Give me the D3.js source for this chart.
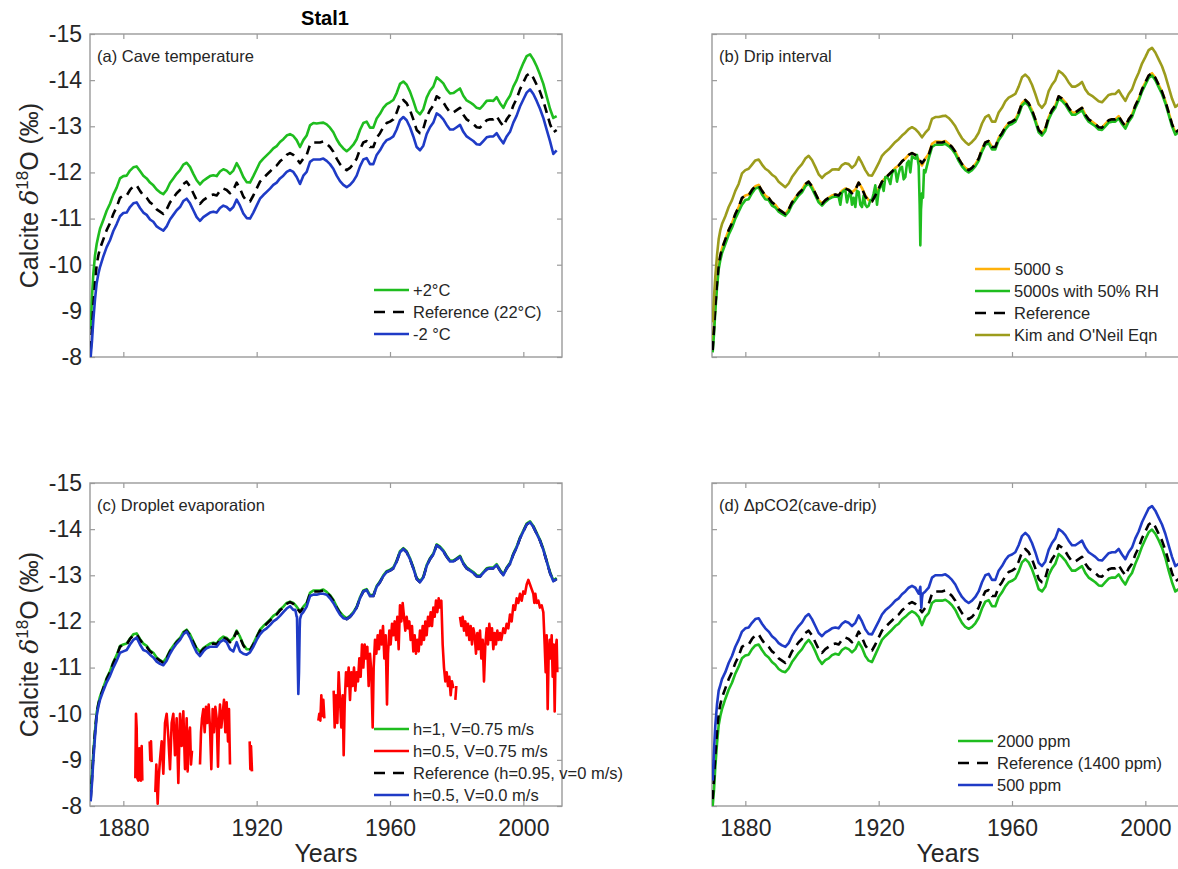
<!DOCTYPE html>
<html>
<head>
<meta charset="UTF-8">
<script src="https://cdn.jsdelivr.net/npm/d3@7"></script>
<style>
body{
    margin:0;
    background:#fff;
    font-family: "Liberation Sans", Helvetica, Arial, sans-serif;
}
</style>
</head>
<body>
<script>
// sampling grid (years) shared by the smooth series
var years = [1870.2, 1870.6, 1871, 1871.5, 1872, 1872.5].concat(d3.range(1873, 2011))

// Reference run (same in all four panels)
var refVals = [
 -8.15,-8.6,-9.1,-9.6,-10.0,-10.2,-10.35,-10.55,-10.75,-10.9,
 -11.1,-11.25,-11.45,-11.5,-11.5,-11.62,-11.7,-11.72,-11.6,-11.5,
 -11.45,-11.35,-11.3,-11.2,-11.15,-11.1,-11.2,-11.35,-11.45,-11.55,
 -11.62,-11.75,-11.8,-11.7,-11.55,-11.4,-11.32,-11.4,-11.45,-11.5,
 -11.52,-11.5,-11.6,-11.65,-11.62,-11.55,-11.62,-11.78,-11.65,-11.48,
 -11.38,-11.37,-11.5,-11.65,-11.8,-11.88,-11.95,-12.02,-12.1,-12.15,
 -12.24,-12.3,-12.38,-12.42,-12.38,-12.3,-12.2,-12.3,-12.38,-12.6,
 -12.65,-12.65,-12.65,-12.67,-12.62,-12.55,-12.45,-12.3,-12.18,-12.1,
 -12.05,-12.1,-12.18,-12.3,-12.5,-12.65,-12.68,-12.55,-12.55,-12.75,
 -12.85,-12.98,-13.07,-13.1,-13.15,-13.3,-13.5,-13.57,-13.5,-13.35,
 -13.15,-12.92,-12.85,-12.95,-13.2,-13.35,-13.45,-13.65,-13.6,-13.52,
 -13.4,-13.3,-13.3,-13.35,-13.4,-13.25,-13.15,-13.1,-13.05,-12.98,
 -12.97,-13.05,-13.13,-13.15,-13.15,-13.22,-13.1,-13.0,-13.15,-13.25,
 -13.45,-13.6,-13.8,-13.95,-14.1,-14.15,-14.05,-13.9,-13.75,-13.55,
 -13.3,-13.05,-12.87,-12.92]

// (a) cave temperature
var warmVals = [
 -8.6,-9.3,-9.8,-10.2,-10.45,-10.62,-10.78,-10.97,-11.17,-11.32,
 -11.52,-11.67,-11.87,-11.92,-11.93,-12.04,-12.11,-12.13,-12.03,-11.93,
 -11.87,-11.78,-11.72,-11.63,-11.57,-11.53,-11.62,-11.77,-11.87,-11.97,
 -12.05,-12.17,-12.21,-12.12,-11.97,-11.83,-11.74,-11.82,-11.87,-11.92,
 -11.94,-11.92,-12.02,-12.07,-12.04,-11.97,-12.04,-12.2,-12.07,-11.9,
 -11.79,-11.78,-11.92,-12.07,-12.22,-12.3,-12.37,-12.44,-12.52,-12.57,
 -12.66,-12.72,-12.8,-12.83,-12.79,-12.7,-12.55,-12.7,-12.8,-13.02,
 -13.07,-13.06,-13.07,-13.08,-13.04,-12.97,-12.87,-12.72,-12.6,-12.52,
 -12.46,-12.52,-12.6,-12.72,-12.92,-13.07,-13.1,-12.97,-12.97,-13.17,
 -13.27,-13.4,-13.48,-13.52,-13.57,-13.72,-13.92,-13.97,-13.9,-13.75,
 -13.55,-13.33,-13.26,-13.37,-13.62,-13.77,-13.86,-14.06,-14.0,-13.93,
 -13.8,-13.71,-13.72,-13.77,-13.82,-13.66,-13.56,-13.52,-13.47,-13.4,
 -13.38,-13.46,-13.55,-13.56,-13.55,-13.63,-13.5,-13.4,-13.55,-13.66,
 -13.86,-14.0,-14.2,-14.37,-14.52,-14.56,-14.45,-14.3,-14.12,-13.92,
 -13.65,-13.38,-13.18,-13.22]
var coolVals = [
 -8.0,-8.35,-8.8,-9.25,-9.6,-9.8,-9.95,-10.18,-10.38,-10.53,
 -10.73,-10.88,-11.05,-11.12,-11.13,-11.25,-11.33,-11.35,-11.23,-11.13,
 -11.08,-10.98,-10.93,-10.83,-10.78,-10.74,-10.83,-10.98,-11.08,-11.18,
 -11.25,-11.38,-11.43,-11.33,-11.18,-11.03,-10.95,-11.03,-11.08,-11.13,
 -11.15,-11.13,-11.23,-11.28,-11.25,-11.18,-11.25,-11.41,-11.28,-11.11,
 -11.01,-11.0,-11.13,-11.28,-11.43,-11.51,-11.58,-11.65,-11.73,-11.78,
 -11.87,-11.93,-12.01,-12.05,-12.01,-11.9,-11.75,-11.93,-12.01,-12.23,
 -12.28,-12.28,-12.28,-12.3,-12.25,-12.18,-12.08,-11.93,-11.81,-11.73,
 -11.68,-11.73,-11.81,-11.93,-12.13,-12.28,-12.31,-12.18,-12.18,-12.38,
 -12.48,-12.61,-12.7,-12.73,-12.78,-12.93,-13.13,-13.2,-13.13,-12.98,
 -12.78,-12.55,-12.48,-12.58,-12.83,-12.98,-13.08,-13.28,-13.23,-13.15,
 -13.03,-12.93,-12.93,-12.98,-13.03,-12.88,-12.78,-12.73,-12.68,-12.61,
 -12.6,-12.68,-12.76,-12.78,-12.78,-12.85,-12.73,-12.63,-12.78,-12.88,
 -13.08,-13.23,-13.43,-13.58,-13.73,-13.8,-13.7,-13.55,-13.38,-13.18,
 -12.93,-12.68,-12.4,-12.48]

// (b) drip interval
var drip5000Vals = [
 -8.3,-8.65,-9.12,-9.6,-10.0,-10.2,-10.35,-10.55,-10.75,-10.9,
 -11.1,-11.25,-11.43,-11.5,-11.52,-11.62,-11.7,-11.73,-11.6,-11.5,
 -11.45,-11.35,-11.3,-11.2,-11.15,-11.1,-11.2,-11.35,-11.45,-11.55,
 -11.62,-11.75,-11.8,-11.7,-11.55,-11.4,-11.33,-11.4,-11.45,-11.5,
 -11.52,-11.5,-11.6,-11.65,-11.63,-11.57,-11.63,-11.78,-11.66,-11.5,
 -11.4,-11.38,-11.5,-11.65,-11.8,-11.88,-11.95,-12.02,-12.1,-12.15,
 -12.24,-12.3,-12.38,-12.42,-12.38,-12.28,-12.15,-12.3,-12.4,-12.62,
 -12.67,-12.67,-12.66,-12.68,-12.62,-12.55,-12.45,-12.3,-12.18,-12.1,
 -12.05,-12.1,-12.18,-12.3,-12.5,-12.65,-12.68,-12.55,-12.55,-12.75,
 -12.85,-12.98,-13.07,-13.1,-13.15,-13.3,-13.5,-13.57,-13.5,-13.35,
 -13.15,-12.92,-12.85,-12.95,-13.2,-13.35,-13.45,-13.65,-13.6,-13.52,
 -13.4,-13.3,-13.3,-13.35,-13.4,-13.25,-13.15,-13.1,-13.05,-12.98,
 -12.97,-13.05,-13.13,-13.15,-13.15,-13.22,-13.1,-13.0,-13.15,-13.25,
 -13.45,-13.6,-13.8,-13.95,-14.1,-14.15,-14.05,-13.9,-13.75,-13.55,
 -13.3,-13.05,-12.87,-12.92]
var dripRhVals = [
 -8.1,-8.5,-9.0,-9.5,-9.9,-10.1,-10.25,-10.45,-10.65,-10.8,
 -11.0,-11.15,-11.3,-11.4,-11.42,-11.55,-11.65,-11.68,-11.52,-11.42,
 -11.4,-11.28,-11.24,-11.15,-11.1,-11.06,-11.15,-11.3,-11.4,-11.5,
 -11.57,-11.7,-11.76,-11.65,-11.5,-11.35,-11.28,-11.36,-11.42,-11.46,
 -11.48,-11.47,-11.56,-11.62,-11.5,-11.3,-11.25,-11.58,-11.25,-11.3,
 -11.28,-11.4,-11.72,-11.6,-11.75,-11.9,-11.85,-11.98,-12.05,-11.98,
 -12.12,-11.9,-12.25,-12.35,-12.3,-12.15,-11.55,-12.0,-12.3,-12.55,
 -12.6,-12.6,-12.6,-12.62,-12.57,-12.5,-12.4,-12.25,-12.13,-12.05,
 -12.0,-12.05,-12.13,-12.25,-12.45,-12.6,-12.63,-12.5,-12.5,-12.7,
 -12.8,-12.93,-13.02,-13.05,-13.1,-13.25,-13.45,-13.52,-13.45,-13.3,
 -13.1,-12.87,-12.8,-12.9,-13.15,-13.3,-13.4,-13.6,-13.55,-13.47,
 -13.35,-13.25,-13.25,-13.3,-13.35,-13.2,-13.1,-13.05,-13.0,-12.93,
 -12.92,-13.0,-13.08,-13.1,-13.1,-13.17,-13.05,-12.95,-13.1,-13.2,
 -13.4,-13.55,-13.75,-13.9,-14.05,-14.1,-14.0,-13.85,-13.7,-13.5,
 -13.25,-13.0,-12.82,-12.87]
// extra samples of the 50% RH run (jitter 1908-1933 and the 1932 spike)
var dripRhExtraYears = [1908.5,1909.5,1910.5,1911.5,1912.5,1913.5,1914.5,1915.5,1916.5,1917.5,
 1918.5,1919.5,1920.5,1921.5,1922.5,1923.5,1924.5,1925.5,1926.5,1927.5,1928.5,1929.5,1930.5,
 1931.5,1932.3,1932.5,1932.7,1933.3,1933.6]
var dripRhExtraVals = [-11.3,-11.6,-11.35,-11.6,-11.45,-11.6,-11.3,-11.5,-11.25,-11.4,
 -11.55,-11.3,-11.7,-11.6,-11.9,-11.75,-12.05,-11.8,-12.1,-11.85,-12.2,-12.0,-12.32,
 -12.38,-11.3,-10.42,-11.2,-11.45,-12.05]
var kimVals = [
 -8.75,-9.3,-9.75,-10.2,-10.55,-10.75,-10.88,-11.05,-11.25,-11.4,
 -11.6,-11.75,-11.98,-12.05,-12.08,-12.17,-12.26,-12.28,-12.17,-12.08,
 -12.03,-11.95,-11.9,-11.8,-11.74,-11.68,-11.76,-11.9,-12.0,-12.1,
 -12.18,-12.3,-12.36,-12.27,-12.12,-11.96,-11.88,-11.96,-12.0,-12.06,
 -12.07,-12.06,-12.16,-12.2,-12.18,-12.1,-12.17,-12.33,-12.2,-12.05,
 -11.94,-11.93,-12.06,-12.2,-12.36,-12.44,-12.5,-12.58,-12.66,-12.72,
 -12.8,-12.86,-12.94,-12.98,-12.94,-12.86,-12.76,-12.86,-12.94,-13.16,
 -13.2,-13.2,-13.22,-13.23,-13.18,-13.1,-13.0,-12.86,-12.74,-12.66,
 -12.6,-12.66,-12.74,-12.86,-13.06,-13.2,-13.24,-13.1,-13.1,-13.3,
 -13.4,-13.54,-13.62,-13.66,-13.7,-13.86,-14.06,-14.12,-14.05,-13.9,
 -13.7,-13.48,-13.4,-13.5,-13.76,-13.9,-14.0,-14.2,-14.15,-14.07,
 -13.95,-13.86,-13.86,-13.9,-13.96,-13.8,-13.7,-13.66,-13.6,-13.54,
 -13.52,-13.6,-13.68,-13.7,-13.7,-13.78,-13.66,-13.55,-13.7,-13.8,
 -14.0,-14.16,-14.36,-14.5,-14.65,-14.7,-14.6,-14.45,-14.3,-14.1,
 -13.85,-13.6,-13.42,-13.48]

// (c) droplet evaporation
var evapH1Vals = [
 -8.3,-8.7,-9.15,-9.62,-10.02,-10.22,-10.37,-10.57,-10.77,-10.92,
 -11.12,-11.27,-11.47,-11.5,-11.52,-11.63,-11.72,-11.74,-11.62,-11.52,
 -11.47,-11.37,-11.32,-11.22,-11.16,-11.12,-11.22,-11.37,-11.47,-11.57,
 -11.64,-11.77,-11.82,-11.72,-11.57,-11.42,-11.34,-11.42,-11.47,-11.52,
 -11.54,-11.52,-11.62,-11.67,-11.64,-11.57,-11.64,-11.8,-11.67,-11.5,
 -11.4,-11.39,-11.52,-11.67,-11.82,-11.9,-11.97,-12.04,-12.12,-12.17,
 -12.26,-12.32,-12.4,-12.43,-12.4,-12.32,-12.22,-12.32,-12.4,-12.62,
 -12.67,-12.67,-12.67,-12.69,-12.64,-12.57,-12.47,-12.32,-12.2,-12.12,
 -12.07,-12.12,-12.2,-12.32,-12.52,-12.67,-12.7,-12.57,-12.57,-12.77,
 -12.87,-13.0,-13.09,-13.12,-13.17,-13.32,-13.52,-13.59,-13.52,-13.37,
 -13.17,-12.94,-12.87,-12.97,-13.22,-13.37,-13.47,-13.67,-13.62,-13.54,
 -13.42,-13.32,-13.32,-13.37,-13.42,-13.27,-13.17,-13.12,-13.07,-13.0,
 -12.99,-13.07,-13.15,-13.17,-13.17,-13.24,-13.12,-13.02,-13.17,-13.27,
 -13.47,-13.62,-13.82,-13.97,-14.12,-14.17,-14.07,-13.92,-13.77,-13.57,
 -13.32,-13.07,-12.89,-12.94]
var evapV0Vals = [
 -8.1,-8.5,-9.0,-9.5,-9.95,-10.15,-10.3,-10.5,-10.68,-10.82,
 -11.0,-11.15,-11.32,-11.35,-11.38,-11.5,-11.6,-11.65,-11.5,-11.38,
 -11.35,-11.28,-11.22,-11.13,-11.08,-11.05,-11.15,-11.3,-11.42,-11.52,
 -11.6,-11.72,-11.78,-11.65,-11.48,-11.33,-11.25,-11.35,-11.42,-11.45,
 -11.45,-11.45,-11.55,-11.6,-11.55,-11.4,-11.35,-11.55,-11.35,-11.3,
 -11.28,-11.33,-11.45,-11.6,-11.72,-11.8,-11.85,-11.92,-12.0,-12.05,
 -12.12,-12.2,-12.28,-12.33,-12.25,-12.1,-12.05,-12.2,-12.32,-12.55,
 -12.58,-12.58,-12.6,-12.6,-12.58,-12.5,-12.4,-12.27,-12.15,-12.07,
 -12.05,-12.1,-12.18,-12.3,-12.5,-12.65,-12.68,-12.55,-12.55,-12.75,
 -12.85,-12.98,-13.07,-13.1,-13.15,-13.3,-13.5,-13.57,-13.5,-13.35,
 -13.15,-12.92,-12.85,-12.95,-13.2,-13.35,-13.45,-13.65,-13.6,-13.52,
 -13.4,-13.3,-13.3,-13.35,-13.4,-13.25,-13.15,-13.1,-13.05,-12.98,
 -12.97,-13.05,-13.13,-13.15,-13.15,-13.22,-13.1,-13.0,-13.15,-13.25,
 -13.45,-13.6,-13.8,-13.95,-14.1,-14.15,-14.05,-13.9,-13.75,-13.55,
 -13.3,-13.05,-12.87,-12.92]
var evapV0ExtraYears = [1931.6,1932.1,1932.3,1932.5,1932.7,1932.9,1933.4]
var evapV0ExtraVals = [-12.25,-12.1,-11.2,-10.43,-10.9,-11.8,-12.15]

// h=0.5, V=0.75 m/s run: gappy and spiky (null = no value)
var evapRedYears = [
 1883.6,1883.8,1884.0,1884.2,1884.5,1884.8,1885.0,1885.3,1885.5,1885.7,1885.8,
 1887.9,1888.1,1888.3,1888.5,1888.6,
 1889.6,1889.9,1890.3,1890.6,1891.0,1891.5,1892.0,1892.5,1893.0,1893.5,1894.0,1894.5,1895.0,
 1895.5,1896.0,1896.5,1897.0,1897.5,1898.0,1898.5,1899.0,1899.3,1899.6,1900.0,1900.3,1900.6,1900.8,
 1903.0,1903.3,1903.6,1904.0,1904.4,1904.8,1905.2,1905.6,1906.0,1906.4,1906.8,1907.2,1907.6,
 1908.0,1908.4,1908.7,1909.0,1909.4,1909.8,1910.2,1910.6,1911.0,1911.4,1911.7,1912.0,1912.2,
 1917.9,1918.1,1918.3,1918.6,1918.7,
 1938.5,1938.8,1939.1,1939.4,1939.7,1940.0,1940.3,1940.5,
 1943.1,1943.4,1943.8,1944.2,1944.6,1945.0,1945.4,1945.8,1946.1,1946.4,1946.8,1947.2,1947.6,
 1948.0,1948.4,1948.8,1949.2,1949.6,1950.0,1950.4,1950.8,1951.2,1951.6,1952.0,1952.4,1952.8,
 1953.2,1953.6,1954.0,1954.4,1954.8,1955.1,1955.5,1955.9,1956.3,1956.7,1957.1,1957.5,1957.9,
 1958.3,1958.7,1959.1,1959.4,1959.8,1960.2,1960.6,1961.0,1961.4,1961.8,1962.2,1962.6,1963.0,
 1963.4,1963.8,1964.2,1964.6,1965.0,1965.4,1965.8,1966.2,1966.6,1967.0,1967.4,1967.8,1968.2,
 1968.6,1969.0,1969.4,1969.8,1970.2,1970.6,1971.0,1971.4,1971.8,1972.2,1972.6,1973.0,1973.4,
 1973.8,1974.2,1974.6,1975.0,1975.4,1975.8,1976.2,1976.6,1977.0,1977.4,1977.8,1978.2,1978.6,
 1979.0,1979.2,
 1979.6,1979.9,1980.1,
 1981.0,1981.4,1981.8,1982.2,1982.6,1983.0,1983.4,1983.8,1984.2,1984.6,1985.0,1985.4,1985.8,
 1986.2,1986.6,1987.0,1987.4,1987.8,1988.2,1988.6,1989.0,1989.4,1989.8,1990.2,1990.6,1991.0,
 1991.4,1991.8,1992.2,1992.6,1993.0,1993.4,1994.0,1994.5,1995.0,1995.5,1996.0,1996.5,1997.0,
 1997.5,1998.0,1998.5,1999.0,1999.5,2000.0,2000.5,2001.0,2001.5,2002.0,2002.5,2003.0,2003.3,
 2003.6,2004.0,2004.5,2005.0,2005.5,2006.0,2006.4,2006.7,2007.0,2007.3,2007.6,2007.9,2008.2,
 2008.5,2008.8,2009.1,2009.4,2009.7,2010.0,2010.2]
var evapRedVals = [
 -8.6,-10.0,-9.7,-8.6,-8.55,-9.25,-8.6,-8.55,-9.3,-8.55,null,
 -9.4,-9.0,-9.4,-8.95,null,
 -8.3,-8.9,-8.05,-8.6,-9.0,-9.4,-8.7,-9.8,-10.0,-9.5,-8.8,-9.8,-10.0,
 -9.1,-9.9,-8.5,-10.0,-9.3,-10.05,-8.8,-9.9,-8.75,-9.5,-9.7,-8.9,-9.2,null,
 -8.9,-9.6,-9.9,-10.1,-9.6,-10.15,-9.8,-10.2,-9.7,-8.8,-10.1,-9.6,-10.15,
 -9.9,-8.85,-9.8,-10.2,-9.7,-10.0,-10.3,-9.6,-10.25,-9.4,-10.1,-8.9,null,
 -9.4,-8.8,-9.3,-8.75,null,
 -9.85,-10.0,-9.85,-10.4,-9.95,-10.3,-9.9,null,
 -10.5,-9.7,-10.4,-9.8,-10.9,-10.3,-9.7,-10.4,-9.1,-10.2,-10.9,-10.6,-11.0,
 -10.3,-10.9,-10.6,-11.0,-10.5,-10.9,-10.7,-11.2,-10.8,-11.5,-11.0,-11.5,-11.2,
 -11.45,-10.6,-11.3,-10.9,-9.7,-11.0,-11.6,-11.3,-11.7,-11.4,-11.8,-11.5,-11.9,
 -11.2,-11.7,-10.2,-11.3,-11.8,-11.5,-11.95,-11.7,-12.0,-11.6,-12.1,-11.4,-12.35,
 -12.0,-12.4,-12.1,-11.8,-12.1,-11.85,-12.0,-11.6,-11.9,-11.35,-11.7,-11.3,-11.6,
 -11.35,-11.8,-11.5,-11.9,-11.6,-12.0,-11.7,-12.1,-11.9,-12.2,-11.9,-12.3,-12.1,
 -12.45,-12.2,-12.5,-12.3,-12.45,-11.5,-11.0,-10.7,-10.9,-10.6,-10.8,-10.4,-10.7,
 -10.55,null,
 -10.3,-10.6,null,
 -12.1,-11.9,-12.1,-11.8,-12.0,-11.7,-11.95,-11.6,-11.9,-11.5,-11.85,-11.7,-11.3,
 -11.75,-11.4,-11.8,-11.2,-11.6,-10.7,-11.5,-11.85,-11.5,-11.95,-11.6,-11.85,-11.4,
 -11.75,-11.5,-11.8,-11.6,-11.75,-11.6,-11.85,-11.75,-11.95,-11.85,-12.15,-12.0,-12.35,
 -12.25,-12.5,-12.4,-12.6,-12.45,-12.65,-12.6,-12.8,-12.9,-12.8,-12.7,-12.6,-12.4,
 -12.6,-12.4,-12.45,-12.3,-12.35,-12.2,-11.5,-10.9,-11.7,-10.1,-11.3,-11.6,-11.2,
 -11.7,-10.8,-11.5,-10.05,-11.4,-11.6,-10.9]

// (d) delta pCO2 (cave - drip)
var co2HighVals = [
 -8.0,-8.35,-8.85,-9.35,-9.75,-9.95,-10.1,-10.32,-10.52,-10.67,
 -10.87,-11.02,-11.2,-11.26,-11.28,-11.4,-11.48,-11.5,-11.38,-11.28,
 -11.22,-11.12,-11.06,-10.97,-10.92,-10.9,-10.98,-11.12,-11.22,-11.32,
 -11.4,-11.52,-11.6,-11.5,-11.35,-11.18,-11.08,-11.16,-11.2,-11.27,
 -11.3,-11.28,-11.38,-11.43,-11.4,-11.33,-11.4,-11.55,-11.43,-11.25,
 -11.15,-11.12,-11.28,-11.44,-11.6,-11.68,-11.75,-11.82,-11.9,-11.95,
 -12.04,-12.1,-12.17,-12.22,-12.18,-12.1,-11.92,-12.1,-12.18,-12.4,
 -12.45,-12.45,-12.45,-12.47,-12.42,-12.35,-12.25,-12.1,-11.97,-11.88,
 -11.84,-11.88,-11.96,-12.08,-12.28,-12.43,-12.46,-12.33,-12.33,-12.53,
 -12.63,-12.76,-12.85,-12.88,-12.93,-13.08,-13.28,-13.35,-13.28,-13.13,
 -12.93,-12.7,-12.65,-12.75,-13.0,-13.15,-13.25,-13.46,-13.4,-13.32,
 -13.2,-13.1,-13.1,-13.15,-13.2,-13.05,-12.95,-12.9,-12.85,-12.78,
 -12.77,-12.85,-12.93,-12.95,-12.95,-13.02,-12.9,-12.8,-12.95,-13.05,
 -13.25,-13.42,-13.62,-13.78,-13.93,-13.99,-13.9,-13.76,-13.6,-13.38,
 -13.1,-12.85,-12.65,-12.7]
var co2LowVals = [
 -8.55,-9.2,-9.75,-10.2,-10.5,-10.62,-10.75,-10.9,-11.1,-11.25,
 -11.45,-11.6,-11.78,-11.85,-11.87,-11.97,-12.05,-12.07,-11.95,-11.85,
 -11.78,-11.68,-11.62,-11.53,-11.48,-11.45,-11.53,-11.68,-11.8,-11.9,
 -11.98,-12.1,-12.16,-12.05,-11.9,-11.75,-11.68,-11.76,-11.8,-11.85,
 -11.87,-11.85,-11.95,-12.0,-11.97,-11.9,-11.97,-12.13,-12.0,-11.83,
 -11.73,-11.72,-11.86,-12.0,-12.15,-12.24,-12.3,-12.37,-12.45,-12.5,
 -12.59,-12.65,-12.73,-12.77,-12.73,-12.6,-12.5,-12.65,-12.73,-12.95,
 -13.0,-13.0,-13.0,-13.02,-12.97,-12.9,-12.8,-12.65,-12.53,-12.45,
 -12.4,-12.45,-12.53,-12.65,-12.85,-13.0,-13.03,-12.9,-12.9,-13.1,
 -13.2,-13.33,-13.42,-13.45,-13.5,-13.65,-13.85,-13.92,-13.85,-13.7,
 -13.5,-13.27,-13.2,-13.3,-13.55,-13.7,-13.8,-14.0,-13.95,-13.87,
 -13.75,-13.65,-13.65,-13.7,-13.75,-13.6,-13.5,-13.45,-13.4,-13.33,
 -13.32,-13.4,-13.48,-13.5,-13.5,-13.57,-13.45,-13.35,-13.5,-13.6,
 -13.8,-13.95,-14.15,-14.3,-14.45,-14.5,-14.4,-14.25,-14.1,-13.9,
 -13.65,-13.4,-13.2,-13.25]
var co2LowExtraYears = [1932.5, 1932.8, 1933.2]
var co2LowExtraVals = [-12.75, -12.3, -12.6]

var xTicks = [1880, 1920, 1960, 2000]
var yTicks = [-15, -14, -13, -12, -11, -10, -9, -8]

var green = "#1fbd1f", blue = "#1f3bc6", orange = "#ffb10a", olive = "#9c9c1c", red = "#ff0000"

function pairs(xs, vs){
    return xs.map(function(x, i){ return [x, vs[i]] })
}
function merged(xs, vs, exX, exV){
    return pairs(xs, vs).concat(pairs(exX, exV)).sort(function(a, b){ return a[0] - b[0] })
}

var width = 1178
var height = 869
var boxW = 472
var boxH = 323

var svg = d3.select('body')
    .append('svg')
    .attr('width', width)
    .attr('height', height)
    .style('display', 'block')

svg.append("rect").attr("width", width).attr("height", height).attr("fill", "white")

svg.append("text")
    .attr("x", 325)
    .attr("y", 25)
    .attr("text-anchor", "middle")
    .attr("font-size", 20)
    .attr("font-weight", "bold")
    .attr("fill", "#000")
    .text("Stal1")

var panels = [
    {id: "a", left: 90, top: 34, title: "(a) Cave temperature", yLab: true, xLab: false,
     legend: {x: 374, y: 290},
     series: [
        {name: "+2°C", data: pairs(years, warmVals), color: green},
        {name: "Reference (22°C)", data: pairs(years, refVals), color: "#000", dash: true},
        {name: "-2 °C", data: pairs(years, coolVals), color: blue}
     ]},
    {id: "b", left: 712, top: 34, title: "(b) Drip interval", yLab: false, xLab: false,
     legend: {x: 975, y: 269},
     series: [
        {name: "5000 s", data: pairs(years, drip5000Vals), color: orange},
        {name: "5000s with 50% RH", data: merged(years, dripRhVals, dripRhExtraYears, dripRhExtraVals), color: green},
        {name: "Reference", data: pairs(years, refVals), color: "#000", dash: true},
        {name: "Kim and O'Neil Eqn", data: pairs(years, kimVals), color: olive}
     ]},
    {id: "c", left: 90, top: 483, title: "(c) Droplet evaporation", yLab: true, xLab: true,
     legend: {x: 374, y: 729},
     series: [
        {name: "h=1, V=0.75 m/s", data: pairs(years, evapH1Vals), color: green},
        {name: "h=0.5, V=0.75 m/s", data: pairs(evapRedYears, evapRedVals), color: red},
        {name: "Reference (h=0.95, v=0 m/s)", data: pairs(years, refVals), color: "#000", dash: true},
        {name: "h=0.5, V=0.0 m/s", data: merged(years, evapV0Vals, evapV0ExtraYears, evapV0ExtraVals), color: blue}
     ]},
    {id: "d", left: 712, top: 483, title: "(d) \u0394pCO2(cave-drip)", yLab: false, xLab: true,
     legend: {x: 958, y: 741},
     series: [
        {name: "2000 ppm", data: pairs(years, co2HighVals), color: green},
        {name: "Reference (1400 ppm)", data: pairs(years, refVals), color: "#000", dash: true},
        {name: "500 ppm", data: merged(years, co2LowVals, co2LowExtraYears, co2LowExtraVals), color: blue}
     ]}
]

var axisGray = "#9a9a9a"
var labelColor = "#262626"

panels.forEach(function(p){
    var x = d3.scaleLinear().domain([1870, 2011.6]).range([0, boxW])
    var y = d3.scaleLinear().domain([-15, -8]).range([0, boxH])

    var g = svg.append("g").attr("transform", "translate(" + p.left + "," + p.top + ")")

    g.append("clipPath").attr("id", "clip-" + p.id)
        .append("rect").attr("width", boxW).attr("height", boxH)

    // axes (ticks pointing inwards on all four sides)
    var bottom = g.append("g").attr("transform", "translate(0," + boxH + ")")
        .call(d3.axisBottom(x).tickValues(xTicks).tickSize(-5).tickPadding(14)
              .tickFormat(p.xLab ? d3.format("d") : function(){ return "" }))
    var top = g.append("g")
        .call(d3.axisTop(x).tickValues(xTicks).tickSize(-5).tickFormat(""))
    var left = g.append("g")
        .call(d3.axisLeft(y).tickValues(yTicks).tickSize(-5).tickPadding(8)
              .tickFormat(p.yLab ? d3.format("d") : function(){ return "" }))
    var right = g.append("g").attr("transform", "translate(" + boxW + ",0)")
        .call(d3.axisRight(y).tickValues(yTicks).tickSize(-5).tickFormat(""))

    ;[bottom, top, left, right].forEach(function(a){
        a.select(".domain").remove()
        a.selectAll(".tick line").attr("stroke", axisGray).attr("stroke-width", 1.2)
        a.selectAll(".tick text")
            .attr("fill", labelColor)
            .attr("font-size", 23)
            .attr("font-family", "Liberation Sans, Helvetica, Arial, sans-serif")
    })
    // plain hyphen for the minus sign, as in the original
    left.selectAll(".tick text").text(function(d){ return p.yLab ? String(d).replace("\u2212", "-") : "" })

    g.append("rect")
        .attr("width", boxW)
        .attr("height", boxH)
        .attr("fill", "none")
        .attr("stroke", axisGray)
        .attr("stroke-width", 1.4)

    var line = d3.line()
        .defined(function(d){ return d[1] != null })
        .x(function(d){ return x(d[0]) })
        .y(function(d){ return y(d[1]) })

    var plot = g.append("g").attr("clip-path", "url(#clip-" + p.id + ")")
    p.series.forEach(function(s){
        plot.append("path")
            .datum(s.data)
            .attr("d", line)
            .attr("fill", "none")
            .attr("stroke", s.color)
            .attr("stroke-width", 2.6)
            .attr("stroke-linejoin", "round")
            .attr("stroke-dasharray", s.dash ? "9,6" : null)
    })

    g.append("text")
        .attr("x", 7)
        .attr("y", 28)
        .attr("font-size", 16.5)
        .attr("fill", labelColor)
        .text(p.title)

    // legend
    var lg = svg.append("g")
    p.series.forEach(function(s, i){
        var ly = p.legend.y + i * 22
        lg.append("line")
            .attr("x1", p.legend.x).attr("x2", p.legend.x + 35)
            .attr("y1", ly).attr("y2", ly)
            .attr("stroke", s.color)
            .attr("stroke-width", 2.6)
            .attr("stroke-dasharray", s.dash ? "11,8" : null)
        lg.append("text")
            .attr("x", p.legend.x + 39)
            .attr("y", ly)
            .attr("dy", "0.35em")
            .attr("font-size", 16.5)
            .attr("fill", labelColor)
            .text(s.name)
    })

    if (p.yLab){
        var yl = svg.append("text")
            .attr("transform", "translate(38," + (p.top + boxH / 2) + ") rotate(-90)")
            .attr("text-anchor", "middle")
            .attr("font-size", 25)
            .attr("fill", labelColor)
        yl.append("tspan").text("Calcite ")
        yl.append("tspan").attr("font-family", "DejaVu Serif, serif").attr("font-style", "italic").text("\u03b4")
        yl.append("tspan").attr("font-size", 17).attr("dy", -10).text("18")
        yl.append("tspan").attr("dy", 10).text("O (\u2030)")
    }
    if (p.xLab){
        svg.append("text")
            .attr("x", p.left + boxW / 2)
            .attr("y", p.top + boxH + 56)
            .attr("text-anchor", "middle")
            .attr("font-size", 25)
            .attr("fill", labelColor)
            .text("Years")
    }
})
</script>
</body>
</html>
